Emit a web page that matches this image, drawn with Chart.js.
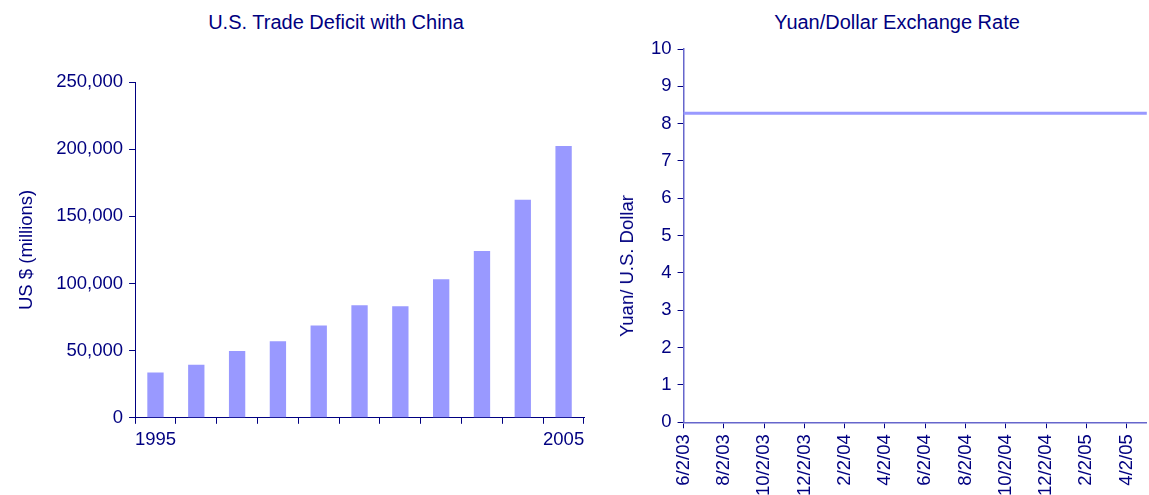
<!DOCTYPE html>
<html>
<head>
<meta charset="utf-8">
<script src="https://cdn.jsdelivr.net/npm/chart.js@4.4.1/dist/chart.umd.min.js"></script>
<style>
  body { margin: 0; background: #fff; }
  #wrap { position: relative; width: 1149px; height: 495px; overflow: hidden; font-family: "Liberation Sans", Arial, sans-serif; }
  .titulo { position: absolute; top: 11px; font-size: 20px; color: #000080; white-space: nowrap; transform: translateX(-50%); }
  .ejeY { position: absolute; font-size: 18.5px; color: #000080; white-space: nowrap; transform: translate(-50%, -50%) rotate(-90deg); z-index: 2; }
  #box1 { position: absolute; left: 0; top: 0; width: 600px; height: 495px; }
  #box2 { position: absolute; left: 600px; top: 0; width: 575px; height: 502px; }
</style>
</head>
<body>
<div id="wrap">
  <div class="titulo" style="left:336px">U.S. Trade Deficit with China</div>
  <div class="titulo" style="left:897px">Yuan/Dollar Exchange Rate</div>
  <div class="ejeY" style="left:627px; top:266px">Yuan/ U.S. Dollar</div>
  <div id="box1"><canvas id="deficitChart"></canvas></div>
  <div id="box2"><canvas id="yuanChart"></canvas></div>
</div>
<script>
const anios = ['1995', '1996', '1997', '1998', '1999', '2000', '2001', '2002', '2003', '2004', '2005'];
const deficit = [33800, 39500, 49700, 56900, 68700, 83800, 83100, 103100, 124100, 162300, 202300];
const etiquetasAnio = ['1995', '2005'];

const fechas = ['6/2/03', '7/2/03', '8/2/03', '9/2/03', '10/2/03', '11/2/03', '12/2/03', '1/2/04',
  '2/2/04', '3/2/04', '4/2/04', '5/2/04', '6/2/04', '7/2/04', '8/2/04', '9/2/04', '10/2/04', '11/2/04',
  '12/2/04', '1/2/05', '2/2/05', '3/2/05', '4/2/05', '5/2/05'];
const tasaYuan = [8.28, 8.28, 8.28, 8.28, 8.28, 8.28, 8.28, 8.28, 8.28, 8.28, 8.28, 8.28,
  8.28, 8.28, 8.28, 8.28, 8.28, 8.28, 8.28, 8.28, 8.28, 8.28, 8.28, 8.28];

const azul = '#000080';
const lila = '#9999ff';
const fuente = { family: '"Liberation Sans", Arial, sans-serif', size: 18.5 };

Chart.defaults.color = azul;
Chart.defaults.font = fuente;

new Chart(document.getElementById('deficitChart'), {
    type: 'bar',
    data: {
        labels: anios,
        datasets: [{ data: deficit, backgroundColor: lila, barPercentage: 0.4, categoryPercentage: 1 }]
    },
    options: {
        responsive: true, maintainAspectRatio: false, animation: false,
        layout: { padding: { left: 16, top: 82, right: 16, bottom: 39 } },
        plugins: { legend: { display: false }, tooltip: { enabled: false } },
        scales: {
            x: {
                offset: true,
                border: { color: azul, width: 1 },
                grid: { offset: true, drawOnChartArea: false, drawTicks: true, tickLength: 6, color: azul },
                ticks: {
                    autoSkip: false, maxRotation: 0, padding: 5,
                    callback: function (v) {
                        const a = this.getLabelForValue(v);
                        return etiquetasAnio.includes(a) ? a : '';
                    }
                }
            },
            y: {
                min: 0, max: 250000,
                border: { color: azul, width: 1 },
                grid: { drawOnChartArea: false, tickLength: 6, color: azul },
                ticks: { stepSize: 50000, padding: 6, callback: (v) => v.toLocaleString('en-US') },
                title: { display: true, text: 'US $ (millions)', padding: { top: 0, bottom: 12 } }
            }
        }
    }
});

// el título del eje Y va en un div aparte (más abajo que el centro del área)
new Chart(document.getElementById('yuanChart'), {
    type: 'line',
    data: {
        labels: fechas,
        datasets: [{ data: tasaYuan, borderColor: lila, borderWidth: 3, pointRadius: 0, fill: false }]
    },
    options: {
        responsive: true, maintainAspectRatio: false, animation: false,
        layout: { padding: { left: 45, top: 49, right: 0, bottom: 0 } },
        plugins: { legend: { display: false }, tooltip: { enabled: false } },
        scales: {
            x: {
                border: { color: '#6666cc', width: 1.5 },
                grid: {
                    drawOnChartArea: false, tickLength: 6,
                    tickColor: (ctx) => ctx.index % 2 ? 'rgba(0,0,0,0)' : azul
                },
                ticks: {
                    autoSkip: false, minRotation: 90, maxRotation: 90, padding: 6,
                    callback: function (v, i) { return i % 2 ? '' : this.getLabelForValue(v); }
                }
            },
            y: {
                min: 0, max: 10,
                border: { color: '#6666cc', width: 1.5 },
                grid: { drawOnChartArea: false, tickLength: 6, color: azul },
                ticks: { stepSize: 1, padding: 6 }
            }
        }
    }
});
</script>
</body>
</html>
